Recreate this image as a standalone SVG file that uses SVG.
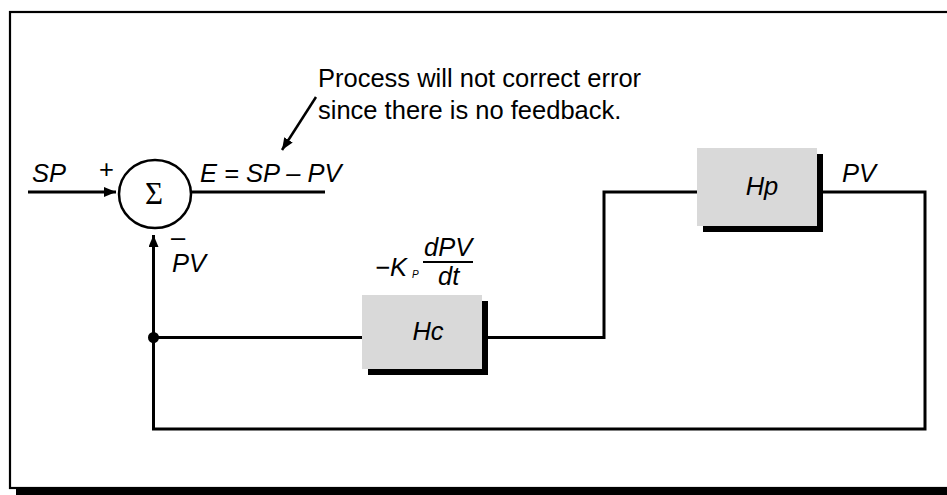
<svg xmlns="http://www.w3.org/2000/svg" width="947" height="495" viewBox="0 0 947 495">
<style>
.t{font-family:"Liberation Sans",Arial,sans-serif;font-style:italic;font-size:25.5px;fill:#000}
.n{font-family:"Liberation Sans",Arial,sans-serif;font-size:25.5px;fill:#000}
.sub{font-size:10px}
.sig{font-family:"Liberation Serif","Times New Roman",serif;font-size:31px;fill:#000}
.w{fill:none;stroke:#000;stroke-width:3}
.box{fill:#d9d9d9}
.sh{fill:#000}
</style>
<defs>
<marker id="ah" viewBox="0 0 12 10" refX="12" refY="5" markerWidth="12" markerHeight="10" markerUnits="userSpaceOnUse" orient="auto">
<path d="M0,0 L12,5 L0,10 Z" fill="#000"/>
</marker>
</defs>
<g id="frame">
<rect x="16" y="489" width="931" height="6" fill="#000"/>
<rect x="10" y="12" width="945" height="476" fill="none" stroke="#000" stroke-width="2.2"/>
</g>
<g id="connectors">
<line class="w" x1="28" y1="192" x2="116" y2="192" marker-end="url(#ah)"/>
<line class="w" x1="191" y1="192" x2="325" y2="192"/>
<polyline class="w" points="362,337.5 153.5,337.5"/>
<polyline class="w" points="153.5,337.5 153.5,429 925,429 925,192 817,192"/>
<line class="w" x1="153.5" y1="429" x2="153.5" y2="235" marker-end="url(#ah)"/>
<polyline class="w" points="488,337.5 604,337.5 604,192 697,192"/>
<line stroke="#000" stroke-width="2.5" x1="316" y1="97" x2="282" y2="150" marker-end="url(#ah)"/>
<circle cx="153.5" cy="337.5" r="5.5" fill="#000"/>
</g>
<g id="sum">
<ellipse cx="155" cy="194" rx="36" ry="34" fill="#fff" stroke="#000" stroke-width="2.5"/>
<text class="sig" x="154" y="204" text-anchor="middle">Σ</text>
</g>
<g id="hc">
<rect class="sh" x="368" y="301" width="120" height="74"/>
<rect class="box" x="362" y="295" width="120" height="74"/>
<text class="t" x="428" y="340" text-anchor="middle">Hc</text>
</g>
<g id="hp">
<rect class="sh" x="703" y="154" width="120" height="78"/>
<rect class="box" x="697" y="148" width="120" height="78"/>
<text class="t" x="762" y="195" text-anchor="middle">Hp</text>
</g>
<g id="labels">
<text class="t" x="32" y="182">SP</text>
<text class="n" x="99" y="178">+</text>
<text class="t" x="200" y="182">E = SP – PV</text>
<text class="n" x="171" y="246">–</text>
<text class="t" x="172" y="272">PV</text>
<text class="t" x="842" y="182">PV</text>
<text class="n" x="318" y="87">Process will not correct error</text>
<text class="n" x="318" y="119">since there is no feedback.</text>
<text class="t" x="375" y="276">−K</text>
<text class="t sub" x="412" y="278">P</text>
<text class="t" x="424" y="256">dPV</text>
<line x1="423" y1="262" x2="473" y2="262" stroke="#000" stroke-width="2"/>
<text class="t" x="438" y="285">dt</text>
</g>
</svg>
